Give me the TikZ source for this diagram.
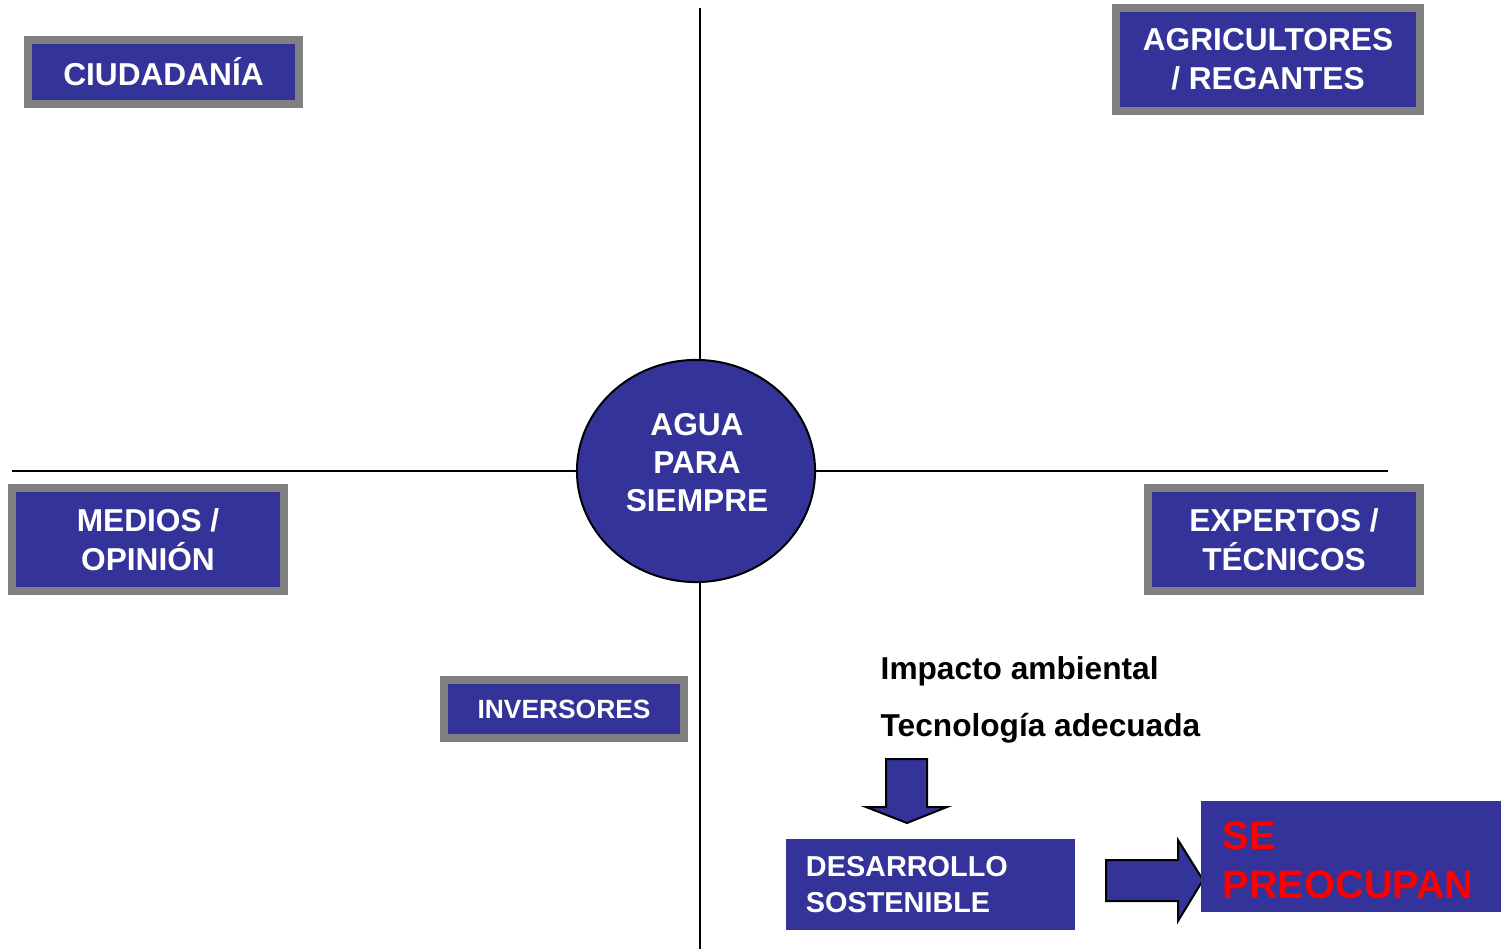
\documentclass[tikz,border=0pt]{standalone}
\usepackage{fontspec}
\setmainfont{Liberation Sans}
\usetikzlibrary{shapes.geometric}
\definecolor{aguablue}{RGB}{51,51,153}
\definecolor{framegray}{RGB}{128,128,128}

\begin{document}
\begin{tikzpicture}[x = 0.01cm, y = -0.01cm,
    actor/.style = {draw = framegray, line width = 0.08cm, fill = aguablue, text = white,
      align = center, inner sep = 0pt, font = \bfseries\fontsize{9}{11}\selectfont},
    plainbox/.style = {fill = aguablue, inner ysep = 0pt, align = left},
    blockarrow/.style = {draw = black, fill = aguablue, line width = 0.02cm, line join = miter}]

      \useasboundingbox (0, 0) rectangle (1501, 949);

      \coordinate (top) at (700, 8);
      \coordinate (bottom) at (700, 949);
      \coordinate (left) at (12, 471);
      \coordinate (right) at (1388, 471);
      \draw[line width = 0.015cm] (top) -- (bottom);
      \draw[line width = 0.015cm] (left) -- (right);

      \node[ellipse, draw = black, line width = 0.02cm, fill = aguablue, minimum width = 2.38cm,
        minimum height = 2.22cm, inner sep = 0pt] (agua) at (696, 471) {};
      \node[text = white, align = center, inner sep = 0pt,
        font = \bfseries\fontsize{9}{10.8}\selectfont] (aguatext) at (697, 463) {AGUA\\PARA\\SIEMPRE};

      \node[actor, minimum width = 2.71cm, minimum height = 0.64cm] (ciudadania) at (163.5, 72) {CIUDADANÍA};
      \node[actor, minimum width = 3.04cm, minimum height = 1.03cm] (agricultores) at (1268, 59.5) {AGRICULTORES\\/ REGANTES};
      \node[actor, minimum width = 2.72cm, minimum height = 1.03cm] (medios) at (148, 539.5) {MEDIOS /\\OPINIÓN};
      \node[actor, minimum width = 2.72cm, minimum height = 1.03cm] (expertos) at (1284, 539.5) {EXPERTOS /\\TÉCNICOS};
      \node[actor, minimum width = 2.40cm, minimum height = 0.58cm, font = \bfseries\fontsize{7.5}{9}\selectfont] (inversores) at (564, 709) {INVERSORES};

      \node[anchor = base west, font = \bfseries\fontsize{9}{11}\selectfont, inner sep = 0pt] (impacto) at (880, 679) {Impacto ambiental};
      \node[anchor = base west, font = \bfseries\fontsize{9}{11}\selectfont, inner sep = 0pt] (tecnologia) at (880, 736) {Tecnología adecuada};

      \draw[blockarrow] (886, 759) -- (927, 759) -- (927, 807) -- (947, 807) -- (907, 823) -- (866, 807) -- (886, 807) -- cycle;
      \draw[blockarrow] (1106, 860) -- (1178, 860) -- (1178, 840) -- (1203, 880) -- (1178, 921) -- (1178, 901) -- (1106, 901) -- cycle;

      \node[plainbox, minimum height = 0.91cm, text width = 2.49cm, inner xsep = 0.2cm, text = white,
        font = \bfseries\fontsize{8.2}{10}\selectfont] (desarrollo) at (930.5, 884.5) {DESARROLLO\\SOSTENIBLE};
      \node[plainbox, minimum width = 3cm, minimum height = 1.11cm] (preocupan) at (1351, 856.5) {};
      \node[anchor = west, align = left, inner sep = 0pt, text = red,
        font = \bfseries\fontsize{11.3}{14}\selectfont] (preocupantext) at (1222, 860) {SE\\PREOCUPAN};

    \end{tikzpicture}
\end{document}
